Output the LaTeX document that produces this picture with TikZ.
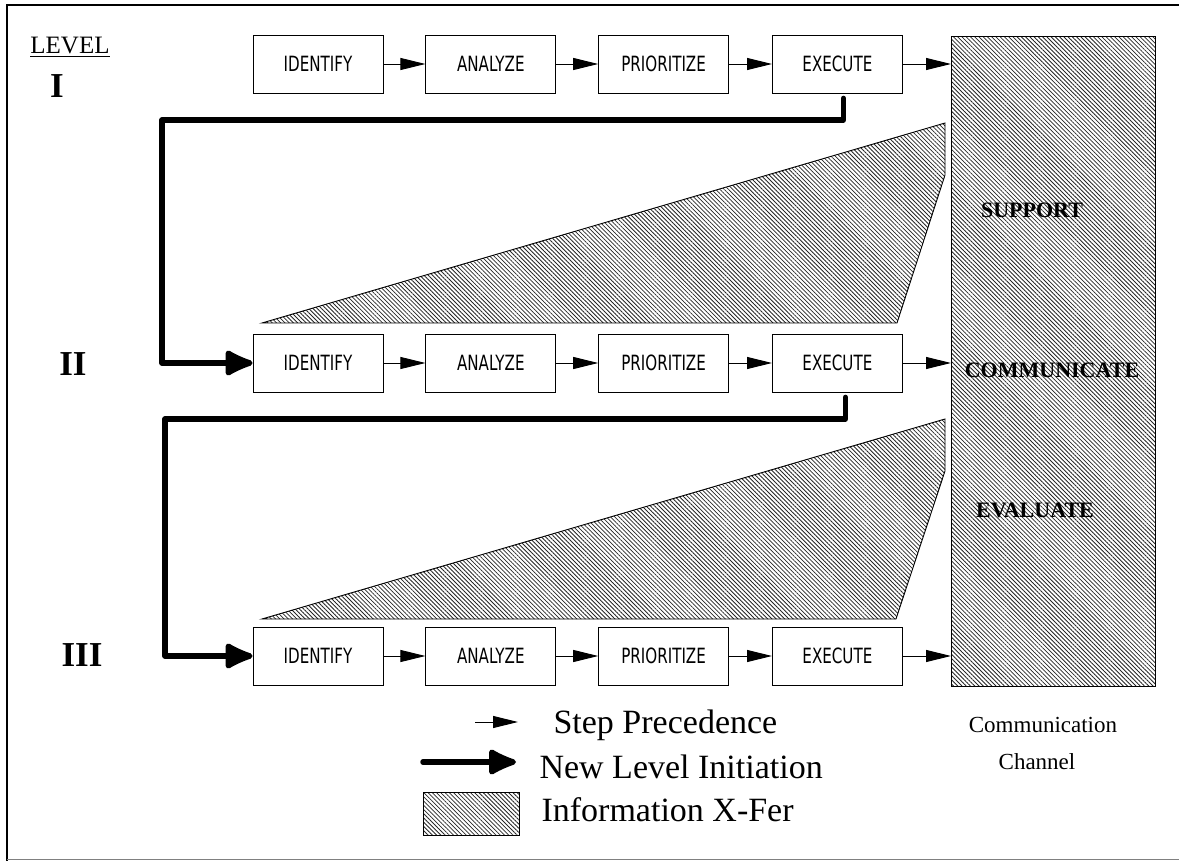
\documentclass[tikz,border=0pt]{standalone}
\usepackage{fontspec}
\setmainfont{Liberation Serif}
\newfontfamily\plotfont[FakeStretch=0.72]{DejaVu Sans}
\usepackage{tikz}
\usetikzlibrary{arrows.meta, positioning, patterns.meta}

\begin{document}
\begin{tikzpicture}[
  x=1pt, y=-1pt,
  every node/.style={align=center},
  box/.style={draw, line width=0.8pt, minimum height=58pt, minimum width=130pt,
              inner sep=0pt, fill=white, font=\plotfont\fontsize{21}{21}\selectfont},
  hatch/.style={draw, line width=0.9pt,
                pattern={Lines[angle=-45, distance=3pt, line width=0.8pt]},
                pattern color=black!85},
  steparr/.style={-{Triangle[length=25pt, width=12pt]}, line width=0.9pt},
  lvlarr/.style={-{Latex[round, length=34pt, width=30pt]}, line width=5.5pt},
  lvltxt/.style={font=\bfseries\fontsize{35}{35}\selectfont},
  chtxt/.style={font=\bfseries\fontsize{22}{22}\selectfont},
  lgtxt/.style={anchor=west, font=\fontsize{34}{34}\selectfont},
]
  \useasboundingbox (0,0) rectangle (1179,861);
  % frame
  \draw[line width=2pt] (1179,5) -- (7,5) -- (7,861);
  \draw[line width=0.8pt, black!50] (7,859) -- (1179,859);

  % level labels
  \node[font=\fontsize{25}{25}\selectfont] (lev) at (70,47) {\underline{LEVEL}};
  \node[lvltxt] (lv1) at (57,86)  {I};
  \node[lvltxt] (lv2) at (73,364) {II};
  \node[lvltxt] (lv3) at (82,655) {III};

  % communication channel
  \node[hatch, minimum width=204pt, minimum height=650pt, inner sep=0pt,
        anchor=north west] (chan) at (951,36) {};
  \node[chtxt] (sup)  at (1032,210) {SUPPORT};
  \node[chtxt] (com)  at (1052,370) {COMMUNICATE};
  \node[chtxt] (eva)  at (1035,510) {EVALUATE};
  \node[font=\fontsize{23}{23}\selectfont] (cc1) at (1043,725) {Communication};
  \node[font=\fontsize{23}{23}\selectfont] (cc2) at (1037,762) {Channel};

  % information transfer
  \draw[hatch] (262,323) -- (945,123) -- (945,175) -- (897,323) -- cycle;
  \draw[hatch] (262,619) -- (945,419) -- (945,471) -- (896,619) -- cycle;

  % level I
  \node[box] (id1) at (318,64) {IDENTIFY};
  \node[box, right=42pt of id1] (an1) {ANALYZE};
  \node[box, right=42pt of an1] (pr1) {PRIORITIZE};
  \node[box, right=43pt of pr1] (ex1) {EXECUTE};

  % level II
  \node[box] (id2) at (318,363) {IDENTIFY};
  \node[box, right=42pt of id2] (an2) {ANALYZE};
  \node[box, right=42pt of an2] (pr2) {PRIORITIZE};
  \node[box, right=43pt of pr2] (ex2) {EXECUTE};

  % level III
  \node[box] (id3) at (318,656) {IDENTIFY};
  \node[box, right=42pt of id3] (an3) {ANALYZE};
  \node[box, right=42pt of an3] (pr3) {PRIORITIZE};
  \node[box, right=43pt of pr3] (ex3) {EXECUTE};

  \draw[steparr] (id1) -- (an1);
  \draw[steparr] (an1) -- (pr1);
  \draw[steparr] (pr1) -- (ex1);
  \draw[steparr] (ex1) -- (ex1 -| chan.west);
  \draw[steparr] (id2) -- (an2);
  \draw[steparr] (an2) -- (pr2);
  \draw[steparr] (pr2) -- (ex2);
  \draw[steparr] (ex2) -- (ex2 -| chan.west);
  \draw[steparr] (id3) -- (an3);
  \draw[steparr] (an3) -- (pr3);
  \draw[steparr] (pr3) -- (ex3);
  \draw[steparr] (ex3) -- (ex3 -| chan.west);

  % new level initiation
  \coordinate (turn1) at (162,120);
  \coordinate (turn2) at (165,419);
  \draw[lvlarr, line join=round, line cap=round]
    ([xshift=6pt, yshift=-5pt]ex1.south) |- (turn1) |- (id2.west);
  \draw[lvlarr, line join=round, line cap=round]
    ([xshift=8pt, yshift=-5pt]ex2.south) |- (turn2) |- (id3.west);

  % legend
  \coordinate (lgs1) at (475,722);
  \coordinate (lgs2) at (518,722);
  \coordinate (lgl1) at (423,762);
  \coordinate (lgl2) at (516,762);
  \draw[steparr] (lgs1) -- (lgs2);
  \draw[lvlarr, line cap=round] (lgl1) -- (lgl2);
  \node[hatch, minimum width=96pt, minimum height=43pt, inner sep=0pt,
        anchor=north west] (lgbox) at (423,792) {};
  \node[lgtxt] (lg1) at (550,725) {Step Precedence};
  \node[lgtxt] (lg2) at (536,767) {New Level Initiation};
  \node[lgtxt] (lg3) at (538,810) {Information X-Fer};
\end{tikzpicture}
\end{document}
